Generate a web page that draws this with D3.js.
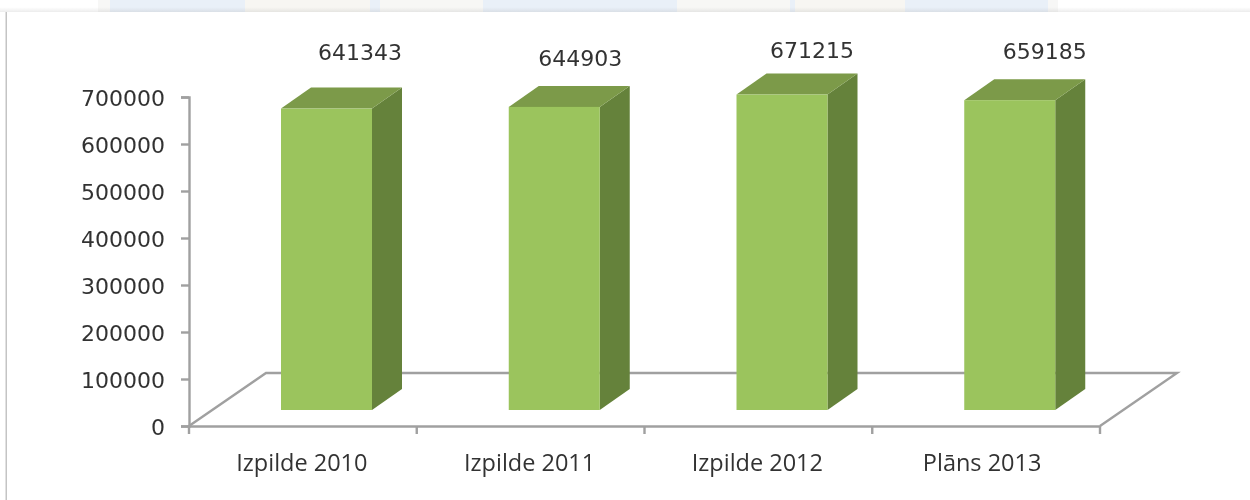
<!DOCTYPE html>
<html lang="lv">
<head>
<meta charset="utf-8">
<script src="https://d3js.org/d3.v7.min.js"></script>
<style>
  html, body { margin: 0; padding: 0; background: #fff; }
  svg { display: block; }
  text { font-family: "DejaVu Sans", sans-serif; fill: #333; }
</style>
</head>
<body>
<script>
const categories = ["Izpilde 2010", "Izpilde 2011", "Izpilde 2012", "Plāns 2013"];
const values = [641343, 644903, 671215, 659185];
const yTicks = [0, 100000, 200000, 300000, 400000, 500000, 600000, 700000];

// data labels were hand placed in the original chart, offsets from the bar front centre
const labelDx = [33.5, 26, 30, 35];
const labelDy = [-49, -40.5, -37, -41];
const catDx = [0, 0, 0, -3];

// page behind the chart, only a strip shows at the top
const stripStart = [98, 110, 245, 370, 380, 483, 677, 790, 795, 905, 1048, 1058];
const stripEnd = [110, 245, 370, 380, 483, 677, 790, 795, 905, 1048, 1058, 1250];
const stripFill = ["#f7f7f6", "#e9f0f8", "#f7f6f2", "#e9f0f8", "#f7f7f5", "#e9f0f8", "#f7f7f5", "#e9f0f8", "#f7f6f2", "#e9f0f8", "#f7f7f6", "#ffffff"];

const width = 1250, height = 500;
const left = 189, right = 1100, axisY = 426, axisTop = 97;
const depthX = 77, depthY = 53;      // floor depth
const barDx = 30, barDy = 21;        // bar depth
const barW = 91, barBase = 16;

const svg = d3.select("body").append("svg").attr("width", width).attr("height", height);

const defs = svg.append("defs");
// the source is a soft upscaled screenshot
defs.append("filter").attr("id", "soft")
  .append("feGaussianBlur").attr("stdDeviation", 0.6);
const shade = defs.append("linearGradient").attr("id", "shade").attr("x1", 0).attr("y1", 0).attr("x2", 0).attr("y2", 1);
shade.append("stop").attr("offset", "60%").attr("stop-color", "#8a8a8a").attr("stop-opacity", 0);
shade.append("stop").attr("offset", "100%").attr("stop-color", "#8a8a8a").attr("stop-opacity", 0.16);

// strip of the page behind the chart
stripStart.forEach((s, i) => {
  svg.append("rect").attr("x", s).attr("y", 0).attr("width", stripEnd[i] - s).attr("height", 12).attr("fill", stripFill[i]);
});
svg.append("rect").attr("width", width).attr("height", 12).attr("fill", "url(#shade)");
svg.append("rect").attr("x", 5.5).attr("y", 12).attr("width", 1.5).attr("height", height - 12).attr("fill", "#c4c4c4");

const chart = svg.append("g").attr("filter", "url(#soft)");

const x = d3.scaleBand().domain(categories).range([left, right]);
const y = d3.scaleLinear().domain([0, 700000]).range([axisY, axisTop]);

// floor
chart.append("path")
  .attr("d", d3.line()([[left, axisY], [left + depthX, axisY - depthY], [right + depthX, axisY - depthY], [right, axisY]]))
  .attr("fill", "none").attr("stroke", "#a0a0a0").attr("stroke-width", 2.4);

// axes
const yAxis = d3.axisLeft(y).tickValues(yTicks).tickFormat(d3.format("d")).tickSize(8).tickPadding(16);
const yg = chart.append("g").attr("transform", `translate(${left},0)`).call(yAxis);

const xAxis = d3.axisBottom(x).tickSize(0).tickPadding(28);
const xg = chart.append("g").attr("transform", `translate(0,${axisY})`).call(xAxis);

// x ticks sit between the categories
chart.selectAll("line.sep")
  .data(categories.concat([null]))
  .enter().append("line").attr("class", "sep")
  .attr("x1", (d, i) => left + i * x.step())
  .attr("x2", (d, i) => left + i * x.step())
  .attr("y1", axisY).attr("y2", axisY + 8)
  .attr("stroke", "#a0a0a0").attr("stroke-width", 2.4);

[yg, xg].forEach(g => {
  g.selectAll(".domain").attr("stroke", "#a0a0a0").attr("stroke-width", 2.4);
  g.selectAll(".tick line").attr("stroke", "#a0a0a0").attr("stroke-width", 2.4);
  g.selectAll("text").attr("fill", "#333");
});
yg.selectAll("text").style("font-size", "22px").style("font-family", '"DejaVu Sans", sans-serif')
  .attr("transform", "translate(0,1)");
xg.selectAll("text").style("font-size", "23.5px").style("font-family", '"Open Sans", sans-serif')
  .attr("transform", (d, i) => `translate(${catDx[i] - 1},0)`);

// bars
const barX = d => x(d) + 92;
const base = axisY - barBase;
const top_ = v => base - (axisY - y(v));

const bars = chart.selectAll("g.bar")
  .data(categories.map((c, i) => ({ c: c, v: values[i], dx: labelDx[i], dy: labelDy[i] })))
  .enter().append("g").attr("class", "bar");

// side
bars.append("path").attr("fill", "#65823a")
  .attr("d", d => d3.line()([
    [barX(d.c) + barW, base], [barX(d.c) + barW, top_(d.v)],
    [barX(d.c) + barW + barDx, top_(d.v) - barDy], [barX(d.c) + barW + barDx, base - barDy]
  ]) + "Z");
// top
bars.append("path").attr("fill", "#7b9a48")
  .attr("d", d => d3.line()([
    [barX(d.c), top_(d.v)], [barX(d.c) + barW, top_(d.v)],
    [barX(d.c) + barW + barDx, top_(d.v) - barDy], [barX(d.c) + barDx, top_(d.v) - barDy]
  ]) + "Z");
// front
bars.append("rect").attr("fill", "#9bc45d")
  .attr("x", d => barX(d.c)).attr("y", d => top_(d.v))
  .attr("width", barW).attr("height", d => base - top_(d.v));

// labels
bars.append("text")
  .attr("x", d => barX(d.c) + barW / 2 + d.dx)
  .attr("y", d => top_(d.v) + d.dy)
  .attr("text-anchor", "middle")
  .style("font-size", "22px")
  .text(d => d.v);
</script>
</body>
</html>
